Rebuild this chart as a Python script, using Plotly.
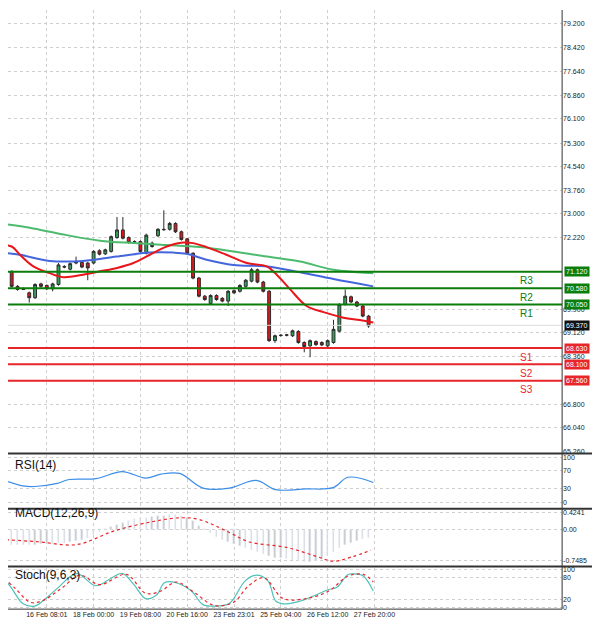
import plotly.graph_objects as go

# ---- data ----
opens  = [71.27,71.73,71.13,70.64,70.56,70.43,70.27,70.72,70.67,70.56,70.70,71.29,71.20,71.45,71.42,71.40,
          71.40,71.80,71.70,71.78,72.23,72.48,72.23,72.10,72.10,71.72,72.05,72.29,72.50,72.50,72.69,72.42,
          72.19,71.72,70.91,70.32,70.08,70.34,70.25,70.16,70.50,70.48,70.64,70.81,71.18,70.78,70.48,68.87,
          69.05,69.06,69.03,69.17,68.81,68.70,68.84,68.81,68.70,68.81,69.18,70.05,70.30,70.13,70.00,69.67]
closes = [71.67,71.13,70.64,70.54,70.54,70.27,70.70,70.64,70.56,70.72,71.34,71.27,71.38,71.40,71.27,71.24,
          71.78,71.69,71.83,72.26,72.48,72.21,72.07,72.09,71.78,72.31,71.94,72.50,72.49,72.69,72.42,72.17,
          71.72,70.91,70.32,70.21,70.34,70.21,70.16,70.48,70.43,70.67,70.84,71.18,70.78,70.48,68.87,69.03,
          69.04,69.05,69.19,68.81,68.68,68.87,68.74,68.73,68.87,69.24,70.05,70.32,70.13,70.00,69.67,69.35]
highs  = [71.75,71.90,71.16,70.68,70.60,70.47,70.74,70.76,70.70,70.76,71.40,71.33,71.42,71.61,71.46,71.44,
          71.82,71.85,71.87,72.30,72.90,72.90,72.27,72.14,72.14,72.36,72.10,72.54,73.12,72.74,72.73,72.46,
          72.22,71.75,70.95,70.36,70.38,70.38,70.29,70.52,70.54,70.71,70.88,71.24,71.22,70.82,70.52,69.07,
          69.08,69.09,69.23,69.21,68.85,68.91,68.88,68.85,68.91,69.55,70.09,70.54,70.34,70.17,70.04,69.71]
lows   = [71.20,70.86,70.60,70.50,70.52,70.11,70.23,70.60,70.52,70.48,70.66,71.23,71.16,71.36,71.23,70.84,
          71.36,71.65,71.66,71.74,72.19,72.17,72.03,72.05,71.74,71.68,71.90,72.25,72.45,72.46,72.38,72.13,
          71.68,70.87,70.28,70.17,70.04,70.17,70.12,70.00,70.39,70.44,70.60,70.77,70.74,70.44,68.83,68.80,
          69.00,69.01,68.99,68.77,68.49,68.33,68.70,68.69,68.66,68.77,69.14,70.01,70.09,69.96,69.63,69.29]

ma_red_x = [0,2,3.4,5.7,8.5,10.8,14.2,17.1,20,22.8,25.6,28.5,31.3,33,35.3,38.7,42.2,45.6,47.3,49.6,52.4,55.3,58.7,61.5,63.8]
ma_red_y = [71.99,71.94,71.67,71.29,71.07,70.94,71.02,71.13,71.24,71.40,71.67,71.94,72.07,72.05,71.92,71.67,71.40,71.29,71.02,70.54,70.00,69.80,69.62,69.54,69.46]
ma_blue_x = [0,3.4,8.5,14.2,19.9,25.6,29.6,31.9,35.3,39.9,45.6,51.3,57,63.8]
ma_blue_y = [71.74,71.67,71.47,71.47,71.61,71.74,71.74,71.70,71.51,71.34,71.29,71.10,70.88,70.64]
ma_green_x = [0,5.7,11.4,17.1,22.8,28.5,34.2,39.9,45.6,51.3,57,63.8]
ma_green_y = [72.69,72.53,72.31,72.13,72.05,71.99,71.92,71.78,71.61,71.45,71.18,71.07]

rsi_x = [0,3.9,5.9,9.8,11.8,16.4,20.9,24.9,27.5,30.7,34.7,39.2,43.8,47.1,52.3,56.9,59.5,63.8]
rsi_y = [52.8,36.9,35.5,42.4,51,53,68.6,54,63,64.5,32,32,49,28.6,30,32.8,56,44.5]

macd_hist = [-0.32,-0.34,-0.36,-0.38,-0.38,-0.37,-0.36,-0.35,-0.35,-0.34,-0.33,-0.32,-0.30,-0.28,-0.25,-0.20,
             -0.12,-0.05,0.02,0.08,0.12,0.17,0.22,0.27,0.30,0.30,0.32,0.34,0.35,0.36,0.36,0.34,0.30,0.22,0.10,0.02,
             -0.08,-0.18,-0.25,-0.30,-0.35,-0.40,-0.45,-0.50,-0.55,-0.60,-0.65,-0.68,-0.70,-0.72,-0.74,-0.76,-0.78,
             -0.78,-0.76,-0.72,-0.65,-0.55,-0.45,-0.38,-0.32,-0.27,-0.23,-0.20]
macd_sig_x = [0,6.5,13.1,19.6,26.2,30.7,34,39.2,42.5,49,54.3,56.9,60.2,63.4]
macd_sig_y = [-0.23,-0.29,-0.36,-0.02,0.21,0.30,0.26,-0.06,-0.29,-0.43,-0.66,-0.77,-0.66,-0.50]

st_x = [0,2,3.9,5.9,7.8,9.8,13.1,16.4,19,20.9,22.9,24.9,26.8,28.1,30.1,32.7,34.7,36.6,39.2,41.9,43.8,45.8,47.1,48.4,51,53.6,56.2,57.6,59.5,60.8,62.1,63.8]
st_main = [90,50,10,3,23,50,89,57,77,90,60,23,33,65,65,43,7,3,10,70,85,70,17,9,15,30,47,53,87,88,83,43]
ss_x = [0,2.6,5.2,7.2,10.5,13.7,17,21.6,24.9,27.5,30.1,33.4,36.6,39.9,42.5,45.1,48.4,52.3,56.2,59.5,62.1,63.8]
st_sig = [87,50,13,17,50,85,60,87,37,43,67,37,5,13,57,78,23,23,43,83,87,67]

levels = [(71.12,"R3","#0a7d0a"),(70.58,"R2","#0a7d0a"),(70.05,"R1","#0a7d0a"),
          (68.63,"S1","#e8262a"),(68.10,"S2","#e8262a"),(67.56,"S3","#e8262a")]
last_price = 69.37
price_ticks = [79.2,78.42,77.64,76.86,76.1,75.3,74.54,73.76,73.0,72.22,69.9,69.12,68.36,66.8,66.04,65.26]
tick_idx = [0,8,16,24,32,40,48,56,64]
tick_lab = ["15 Feb 16:00","16 Feb 08:01","18 Feb 00:00","19 Feb 08:00","20 Feb 16:00",
            "23 Feb 23:01","25 Feb 04:00","26 Feb 12:00","27 Feb 20:00"]

idx = list(range(len(closes)))
fig = go.Figure()
fig.add_trace(go.Candlestick(x=idx, open=opens, high=highs, low=lows, close=closes,
    increasing=dict(fillcolor="#33a35a", line=dict(color="#2b2b2b", width=1)),
    decreasing=dict(fillcolor="#e0161b", line=dict(color="#2b2b2b", width=1)),
    whiskerwidth=0, xaxis="x", yaxis="y", showlegend=False))
fig.add_trace(go.Scatter(x=ma_green_x, y=ma_green_y, mode="lines", line=dict(color="#4dbb6e", width=2, shape="spline"), xaxis="x", yaxis="y"))
fig.add_trace(go.Scatter(x=ma_blue_x, y=ma_blue_y, mode="lines", line=dict(color="#4466dd", width=2, shape="spline"), xaxis="x", yaxis="y"))
fig.add_trace(go.Scatter(x=ma_red_x, y=ma_red_y, mode="lines", line=dict(color="#e8161b", width=2, shape="spline"), xaxis="x", yaxis="y"))

fig.add_trace(go.Scatter(x=rsi_x, y=rsi_y, mode="lines", line=dict(color="#3b8ee8", width=1.2, shape="spline"), xaxis="x2", yaxis="y2"))
fig.add_trace(go.Bar(x=idx, y=macd_hist, marker_color="#c8c8c8", width=0.25, xaxis="x3", yaxis="y3"))
fig.add_trace(go.Scatter(x=macd_sig_x, y=macd_sig_y, mode="lines", line=dict(color="#e8262a", width=1.2, dash="dot", shape="spline"), xaxis="x3", yaxis="y3"))
fig.add_trace(go.Scatter(x=st_x, y=st_main, mode="lines", line=dict(color="#4fc1b8", width=1.2, shape="spline"), xaxis="x4", yaxis="y4"))
fig.add_trace(go.Scatter(x=ss_x, y=st_sig, mode="lines", line=dict(color="#e8262a", width=1.2, dash="dot", shape="spline"), xaxis="x4", yaxis="y4"))

grid = dict(showgrid=True, gridcolor="#cfcfcf", griddash="dot", gridwidth=1, zeroline=False)
xr = [1.37, 96.07]
XE = 0.936
xd = [0, XE]
tf = dict(family="Arial", size=7, color="#222")
for n in ["xaxis", "xaxis2", "xaxis3", "xaxis4"]:
    a = n[5:] or "1"
    fig.layout[n] = dict(range=xr, domain=xd, tickvals=tick_idx, ticktext=tick_lab, tickangle=0,
                         showticklabels=(n == "xaxis4"), tickfont=tf, ticks="",
                         anchor="y" + ("" if a == "1" else a), rangeslider=dict(visible=False), **grid)
fig.update_layout(
    yaxis=dict(domain=[0.2823, 1.0], range=[65.26, 79.65], side="right", tickvals=price_ticks,
               ticktext=[f"{v:.3f}" for v in price_ticks], tickfont=tf, **grid),
    yaxis2=dict(domain=[0.192, 0.276], range=[-10, 105], side="right", tickvals=[0, 30, 70, 100], tickfont=tf, **grid),
    yaxis3=dict(domain=[0.0984, 0.1855], range=[-0.85, 0.47], side="right", tickvals=[-0.7485, 0, 0.4241],
                ticktext=["-0.7485", "0.00", "0.4241"], tickfont=tf, **grid),
    yaxis4=dict(domain=[0.0258, 0.092], range=[-5, 103], side="right", tickvals=[0, 20, 80, 100], tickfont=tf, **grid),
    width=592, height=620, margin=dict(l=0, r=0, t=0, b=0),
    paper_bgcolor="white", plot_bgcolor="white", showlegend=False, bargap=0,
)

shapes = []
anns = []
for v, lab, c in levels:
    shapes.append(dict(type="line", xref="x", yref="y", x0=xr[0], x1=xr[1], y0=v, y1=v, line=dict(color=c, width=2)))
    anns.append(dict(xref="x", yref="y", x=89.9, y=v, yshift=-9, text=lab, showarrow=False,
                     font=dict(family="Arial", size=10, color=c)))
    anns.append(dict(xref="paper", yref="y", x=XE + 0.003, y=v, text=f"{v:.3f}", showarrow=False, xanchor="left",
                     font=dict(family="Arial", size=7, color="white"), bgcolor=c, borderpad=1))
shapes.append(dict(type="line", xref="x", yref="y", x0=xr[0], x1=xr[1], y0=last_price, y1=last_price, line=dict(color="#dddddd", width=1)))
anns.append(dict(xref="paper", yref="y", x=XE + 0.003, y=last_price, text=f"{last_price:.3f}", showarrow=False, xanchor="left",
                 font=dict(family="Arial", size=7, color="white"), bgcolor="#111", borderpad=1))
for yb in [0.279, 0.189, 0.095]:
    shapes.append(dict(type="line", xref="paper", yref="paper", x0=0, x1=1, y0=yb, y1=yb, line=dict(color="#333", width=2)))
shapes.append(dict(type="line", xref="paper", yref="paper", x0=XE, x1=XE, y0=0.0258, y1=1, line=dict(color="#333", width=1)))
shapes.append(dict(type="line", xref="paper", yref="paper", x0=0, x1=XE, y0=0.0258, y1=0.0258, line=dict(color="#333", width=1)))
for txt, yy in [("RSI(14)", 0.245), ("MACD(12,26,9)", 0.168), ("Stoch(9,6,3)", 0.066)]:
    anns.append(dict(xref="paper", yref="paper", x=0.008, y=yy, text=txt, showarrow=False, xanchor="left",
                     font=dict(family="Arial", size=12, color="#111")))
fig.update_layout(shapes=shapes, annotations=anns)
fig.write_html("out.html")
